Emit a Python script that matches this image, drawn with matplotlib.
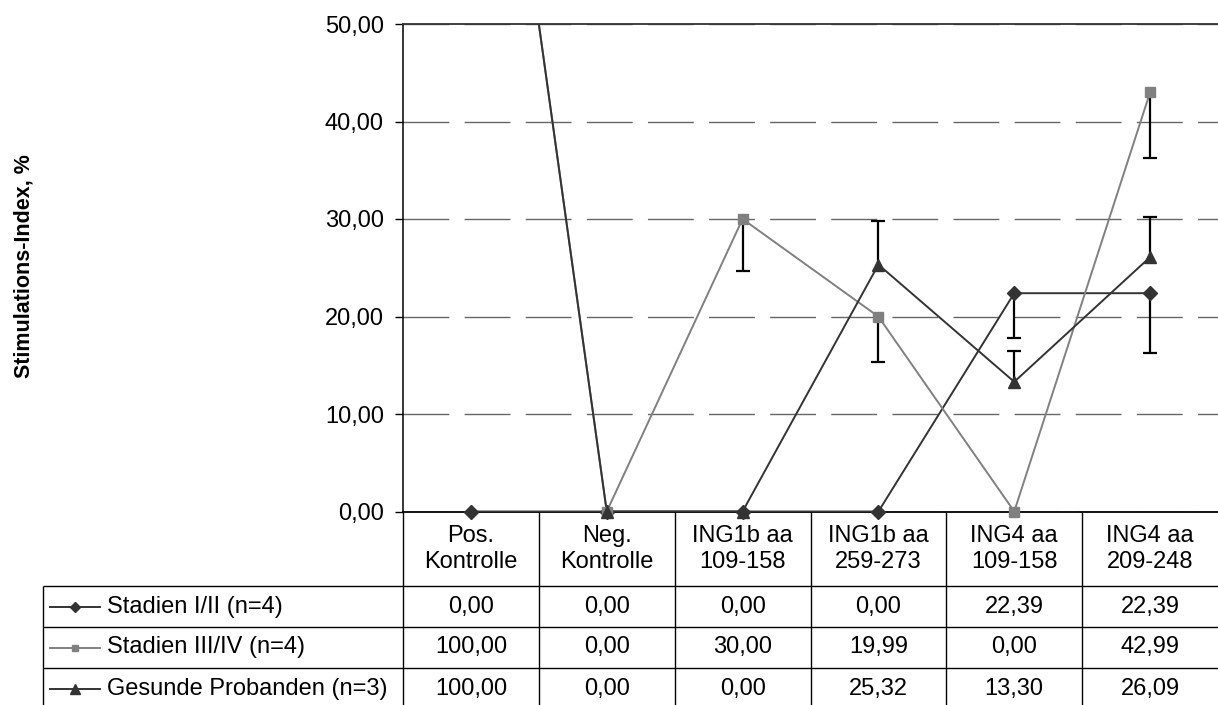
import matplotlib.pyplot as plt
import numpy as np

plt.rcParams['font.family'] = ['Liberation Sans', 'DejaVu Sans']
plt.rcParams['lines.scale_dashes'] = False

categories = ['Pos.\nKontrolle', 'Neg.\nKontrolle', 'ING1b aa\n109-158',
              'ING1b aa\n259-273', 'ING4 aa\n109-158', 'ING4 aa\n209-248']
series_names = ['Stadien I/II (n=4)', 'Stadien III/IV (n=4)', 'Gesunde Probanden (n=3)']
stadien_12 = [0.00, 0.00, 0.00, 0.00, 22.39, 22.39]
stadien_34 = [100.00, 0.00, 30.00, 19.99, 0.00, 42.99]
gesunde = [100.00, 0.00, 0.00, 25.32, 13.30, 26.09]

# error bars are one-sided
stadien_12_lo = [0, 0, 0, 0, 4.6, 6.1]
stadien_34_lo = [0, 0, 5.3, 4.7, 0, 6.7]
gesunde_up = [0, 0, 0, 4.5, 3.2, 4.1]

W, H = 1218, 705
fig = plt.figure(figsize=(W / 100, H / 100), dpi=100)
x0, x1, ytop, ybot = 403, 1218, 24, 511.5
ax = fig.add_axes([x0 / W, 1 - ybot / H, (x1 - x0) / W, (ybot - ytop) / H])

x = np.arange(len(categories))
series = [stadien_12, stadien_34, gesunde]
lows = [stadien_12_lo, stadien_34_lo, [0] * 6]
ups = [[0] * 6, [0] * 6, gesunde_up]
styles = [('#333333', 'D', 7), ('#808080', 's', 6.5), ('#333333', '^', 8)]

for vals, lo, up, (c, m, ms) in zip(series, lows, ups, styles):
    v = np.array(vals)
    lo = np.array(lo)
    up = np.array(up)
    ax.plot(x, v, color=c, lw=1.4, zorder=3)
    ok = v <= 50
    ax.plot(x[ok], v[ok], ls='none', marker=m, ms=ms, color=c, clip_on=False, zorder=5)
    sel = (lo > 0) | (up > 0)
    ends = v - lo + up
    ax.vlines(x[sel], v[sel], ends[sel], colors='black', lw=1.6, zorder=4)
    ax.plot(x[sel], ends[sel], ls='none', marker='_', ms=9.5, mew=1.6, color='black', zorder=4)

ax.set_xlim(-0.5, len(categories) - 0.5)
ax.set_ylim(0, 50)
ax.set_xticks([])
ax.set_yticks(range(0, 51, 10))
ax.set_yticklabels([f'{t:.2f}'.replace('.', ',') for t in range(0, 51, 10)])
ax.tick_params(axis='y', direction='out', length=5.8, width=1, pad=8, labelsize=17)
ax.yaxis.grid(True, color='#666666', lw=1, linestyle=(0, (33, 11)))
ax.set_axisbelow(True)
ax.spines['right'].set_visible(False)
ax.spines['top'].set_color('#333333')
ax.spines['top'].set_linewidth(1.3)
ax.spines['left'].set_linewidth(1.1)
ax.spines['bottom'].set_linewidth(1.3)

fig.text(24 / W, 1 - 266.5 / H, 'Stimulations-Index, %', rotation=90,
         fontweight='bold', fontsize=15.5, ha='center', va='center')

# data table below the chart
tab = fig.add_axes([0, 0, 1, 1])
tab.set_xlim(0, W)
tab.set_ylim(H, 0)
tab.axis('off')

cw = (x1 - x0) / len(categories)
row_lines = [586, 627, 668, 709]
tab.vlines([x0 + i * cw for i in range(len(categories))], ybot, H, colors='black', lw=1)
tab.vlines(43, row_lines[0], H, colors='black', lw=1)
tab.hlines(row_lines, 43, W, colors='black', lw=1)

for i, cat in enumerate(categories):
    tab.text(x0 + (i + 0.5) * cw, (ybot + row_lines[0]) / 2, cat, ha='center', va='center',
             fontsize=17, linespacing=1.25)

legend_ms = [5.5, 5, 6.5]
for r, (name, vals, (c, m, ms)) in enumerate(zip(series_names, series, styles)):
    yc = (row_lines[r] + row_lines[r + 1]) / 2
    tab.plot([50, 100], [yc, yc], color=c, lw=1.4)
    tab.plot([75], [yc], marker=m, ms=legend_ms[r], color=c)
    tab.text(107, yc, name, ha='left', va='center', fontsize=17)
    for i, v in enumerate(vals):
        tab.text(x0 + (i + 0.5) * cw, yc, f'{v:.2f}'.replace('.', ','), ha='center', va='center',
                 fontsize=17)

fig.savefig('out.png', dpi=100)
